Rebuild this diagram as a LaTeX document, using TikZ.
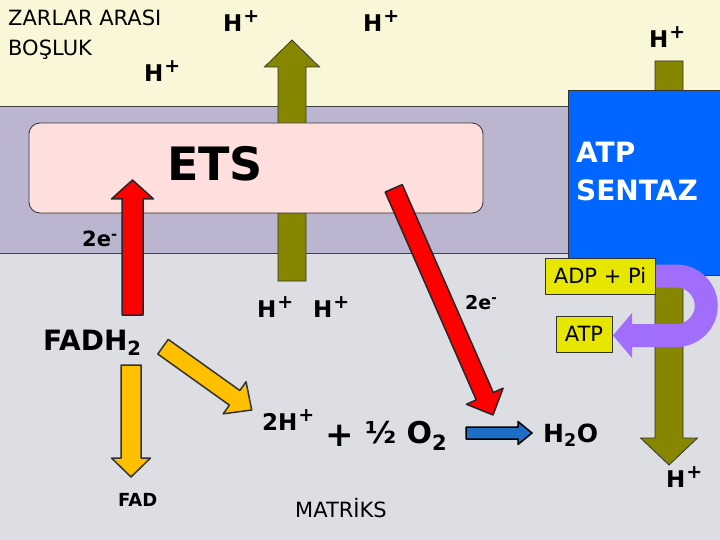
\documentclass[tikz,border=0pt]{standalone}
\usepackage{fontspec}
\setmainfont{DejaVu Sans}
\usetikzlibrary{calc}

\definecolor{cream}{RGB}{250,247,216}
\definecolor{membrane}{RGB}{188,181,208}
\definecolor{matrixgrey}{RGB}{221,222,227}
\definecolor{etspink}{RGB}{255,222,222}
\definecolor{sentazblue}{RGB}{0,102,255}
\definecolor{protonolive}{RGB}{134,134,0}
\definecolor{ered}{RGB}{255,0,0}
\definecolor{fadyellow}{RGB}{255,192,0}
\definecolor{waterblue}{RGB}{30,110,200}
\definecolor{atppurple}{RGB}{160,110,250}
\definecolor{boxyellow}{RGB}{230,230,0}

% proton with a raised plus
\newcommand{\hion}{H\kern1pt\raisebox{9pt}{\fontsize{19}{19}\selectfont +}}

% block arrow: style, from, to, half shaft, half head, head length
\newcommand{\blockarrow}[6]{%
  \coordinate (ba-h) at ($(#3)!#6!(#2)$);
  \draw[#1] ($(#2)!#4!90:(#3)$) -- ($(ba-h)!#4!90:(#3)$) -- ($(ba-h)!#5!90:(#3)$) -- (#3)
    -- ($(ba-h)!#5!-90:(#3)$) -- ($(ba-h)!#4!-90:(#3)$) -- ($(#2)!#4!-90:(#3)$) -- cycle;
}

\begin{document}
\begin{tikzpicture}[x=1pt,y=-1pt,
  txt/.style={inner sep=0pt,anchor=base west},
  hplus/.style={txt,font=\fontsize{23}{23}\selectfont\bfseries},
  protonarrow/.style={fill=protonolive,draw=black!80,line width=0.8pt},
  earrow/.style={fill=ered,draw=black!85,line width=1.5pt,line join=round},
  fadarrow/.style={fill=fadyellow,draw=black!80,line width=1.5pt,line join=round},
  waterarrow/.style={fill=waterblue,draw=black,line width=1.5pt,line join=round},
  ybox/.style={draw=black!80,fill=boxyellow,inner sep=0pt,font=\fontsize{21}{21}\selectfont}
]
\useasboundingbox (0,0) rectangle (720,540);
% compartments
\fill[cream] (0,0) rectangle (720,106);
\fill[membrane] (0,106) rectangle (720,253);
\fill[matrixgrey] (0,253) rectangle (720,540);
\draw[black!75,line width=0.8pt] (0,106) -- (568,106) (0,253) -- (568,253);

% proton pumps
\coordinate (pump-a) at (292,281);
\coordinate (pump-b) at (292,40);
\coordinate (synth-a) at (669,61);
\coordinate (synth-b) at (669,465);
\blockarrow{protonarrow}{pump-a}{pump-b}{14pt}{27.5pt}{27pt}
\blockarrow{protonarrow}{synth-a}{synth-b}{14pt}{28.5pt}{27pt}

% complexes
\draw[fill=sentazblue,draw=black!80,line width=0.8pt] (568,90) rectangle (725,275);
\draw[fill=etspink,draw=black!80,line width=0.8pt,rounded corners=11pt] (29,123) rectangle (483,213);
\node[txt,font=\fontsize{46}{46}\selectfont\bfseries] (ets) at (167,181) {ETS};
\node[txt,font=\fontsize{28}{28}\selectfont\bfseries,text=white] (atp1) at (576,163) {ATP};
\node[txt,font=\fontsize{28}{28}\selectfont\bfseries,text=white] (atp2) at (576,201) {SENTAZ};

% electrons
\coordinate (fadh-e) at (132.5,315);
\coordinate (ets-in) at (132.5,180);
\coordinate (ets-out) at (393.7,188.3);
\coordinate (oxy-in) at (493,415);
\blockarrow{earrow}{fadh-e}{ets-in}{10.5pt}{21pt}{19pt}
\blockarrow{earrow}{ets-out}{oxy-in}{9.3pt}{20pt}{20.5pt}

% ATP synthesis
\coordinate (adp-r) at (645,276);
\coordinate (atp-r) at (613,335.5);
\draw[line width=23pt,atppurple] (adp-r) -- (676.5,276) arc[start angle=-90,end angle=90,radius=29.75] -- (631,335.5);
\fill[atppurple] (632,313) -- (atp-r) -- (632,358) -- cycle;
\node[ybox,minimum width=110pt,minimum height=36pt] (adp) at (600,276) {ADP + Pi};
\node[ybox,minimum width=56pt,minimum height=36pt] (atp) at (584,334) {ATP};

% FADH2 branch
\coordinate (fadh-down) at (131,365);
\coordinate (fad-up) at (131,477);
\coordinate (fadh-side) at (163,346.7);
\coordinate (proton-in) at (251.7,410);
\blockarrow{fadarrow}{fadh-down}{fad-up}{10pt}{19.5pt}{19pt}
\blockarrow{fadarrow}{fadh-side}{proton-in}{9pt}{19.7pt}{21pt}
\coordinate (oxy-out) at (466,433);
\coordinate (water-in) at (532,433);
\blockarrow{waterarrow}{oxy-out}{water-in}{6pt}{11.5pt}{14pt}

% labels
\node[txt,font=\fontsize{21}{21}\selectfont] (zarlar) at (8,26) {ZARLAR ARASI};
\node[txt,font=\fontsize{21}{21}\selectfont] (bosluk) at (8,56) {BOŞLUK};
\node[hplus] (h1) at (223,32) {\hion};
\node[hplus] (h2) at (144,82) {\hion};
\node[hplus] (h3) at (363,32) {\hion};
\node[hplus] (h4) at (649,48) {\hion};
\node[hplus] (h5) at (257,317) {\hion};
\node[hplus] (h6) at (313,317) {\hion};
\node[hplus] (h7) at (666,487) {\hion};
\node[txt,font=\fontsize{21}{21}\selectfont\bfseries] (e1) at (82,247) {2e\textsuperscript{-}};
\node[txt,font=\fontsize{19}{19}\selectfont\bfseries] (e2) at (465,309) {2e\textsuperscript{-}};
\node[txt,font=\fontsize{28}{28}\selectfont\bfseries] (fadh) at (43,350) {FADH\textsubscript{2}};
\node[txt,font=\fontsize{18}{18}\selectfont\bfseries] (fad) at (118,506) {FAD};
\node[txt,font=\fontsize{23}{23}\selectfont\bfseries] (twoh) at (262,430) {2\hion};
\node[txt,font=\fontsize{34}{34}\selectfont\bfseries] (plus) at (325,446) {+};
\node[txt,font=\fontsize{30}{30}\selectfont\bfseries] (oxy) at (365,443) {½ O\textsubscript{2}};
\node[txt,font=\fontsize{25}{25}\selectfont\bfseries] (water) at (543,442) {H\textsubscript{2}O};
\node[txt,font=\fontsize{21}{21}\selectfont] (matriks) at (295,517) {MATRİKS};
\end{tikzpicture}
\end{document}
